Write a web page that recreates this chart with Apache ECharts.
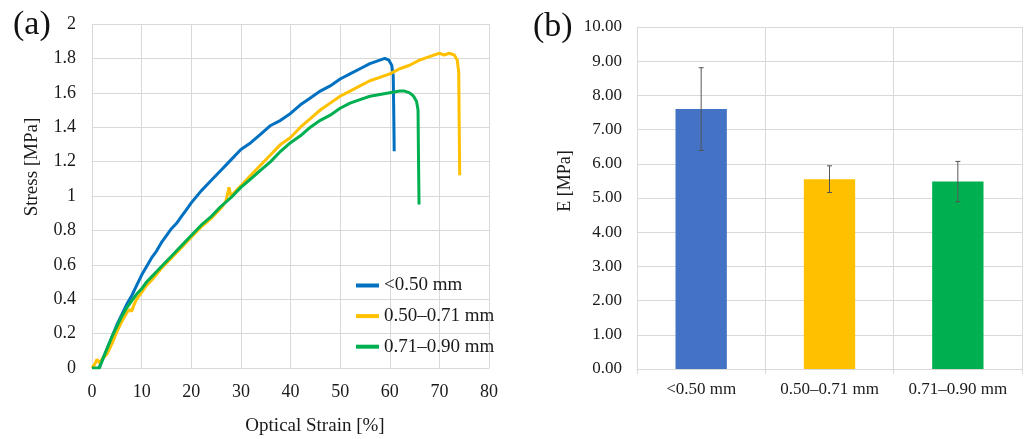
<!DOCTYPE html>
<html>
<head>
<meta charset="utf-8">
<script src="https://cdn.jsdelivr.net/npm/echarts@6/dist/echarts.min.js"></script>
<style>
html,body{margin:0;padding:0;background:#fff;}
#c{width:1027px;height:439px;}
</style>
</head>
<body>
<div id="c"></div>
<script>
// ---------- Panel (a): stress–strain curves ----------
const seriesNames = ['<0.50 mm', '0.50–0.71 mm', '0.71–0.90 mm'];

const blueStrain = [1.4, 2, 3, 4, 5, 6, 7, 8, 9, 10, 11, 12, 13, 14, 15, 16, 17, 18, 19, 20, 22, 24, 26, 28, 30, 32, 34, 36, 38, 40, 42, 44, 46, 48, 50, 52, 54, 56, 57, 58, 59, 59.8, 60.4, 60.7, 60.8, 60.9];
const blueStress = [0, 0.04, 0.11, 0.18, 0.25, 0.31, 0.37, 0.42, 0.48, 0.54, 0.59, 0.64, 0.68, 0.73, 0.77, 0.81, 0.84, 0.88, 0.92, 0.96, 1.03, 1.09, 1.15, 1.21, 1.27, 1.31, 1.36, 1.41, 1.44, 1.48, 1.53, 1.57, 1.61, 1.64, 1.68, 1.71, 1.74, 1.77, 1.78, 1.79, 1.80, 1.79, 1.76, 1.70, 1.50, 1.26];

const yellowStrain = [0, 0.5, 1, 1.5, 2, 3, 4, 5, 6, 7, 7.5, 8, 8.5, 9, 10, 11, 12, 14, 16, 18, 20, 22, 24, 26, 27, 27.6, 28, 30, 32, 34, 36, 38, 40, 42, 44, 46, 48, 50, 52, 54, 56, 58, 60, 62, 64, 66, 68, 70, 71, 72, 73, 73.6, 73.9, 74.0, 74.1];
const yellowStress = [0, 0.02, 0.05, 0.03, 0.05, 0.08, 0.14, 0.21, 0.27, 0.32, 0.34, 0.33, 0.37, 0.40, 0.44, 0.48, 0.51, 0.58, 0.64, 0.70, 0.76, 0.82, 0.87, 0.93, 0.97, 1.05, 1.00, 1.06, 1.12, 1.18, 1.24, 1.30, 1.34, 1.40, 1.45, 1.50, 1.54, 1.58, 1.61, 1.64, 1.67, 1.69, 1.71, 1.74, 1.76, 1.79, 1.81, 1.83, 1.82, 1.83, 1.82, 1.79, 1.72, 1.40, 1.12];

const greenStrain = [0, 1.5, 2, 3, 4, 5, 6, 7, 8, 9, 10, 11, 12, 14, 16, 18, 20, 22, 24, 26, 28, 30, 32, 34, 36, 38, 40, 42, 44, 46, 48, 50, 52, 54, 56, 58, 60, 62, 63, 64, 64.8, 65.4, 65.7, 65.8, 65.9];
const greenStress = [0, 0, 0.04, 0.11, 0.18, 0.24, 0.30, 0.35, 0.39, 0.43, 0.46, 0.50, 0.53, 0.59, 0.65, 0.71, 0.77, 0.83, 0.88, 0.94, 0.99, 1.05, 1.10, 1.15, 1.20, 1.26, 1.31, 1.35, 1.40, 1.44, 1.47, 1.51, 1.54, 1.56, 1.58, 1.59, 1.60, 1.61, 1.61, 1.60, 1.58, 1.55, 1.50, 1.20, 0.95];

// ---------- Panel (b): modulus bars ----------
const barCategories = ['<0.50 mm', '0.50–0.71 mm', '0.71–0.90 mm'];
const modulusMean = [7.60, 5.55, 5.48];
const modulusErr = [1.21, 0.39, 0.59];

const lineColors = ['#0070C0', '#FFC000', '#00B050'];
const barColors = ['#4472C4', '#FFC000', '#00B050'];
const FONT = '"Liberation Serif", "Times New Roman", serif';
const GRID_COLOR = '#d9d9d9';
const TEXT = '#1a1a1a';

function pairs(xs, ys) { return xs.map((x, i) => [x, ys[i]]); }

const chart = echarts.init(document.getElementById('c'), null, {renderer: 'canvas'});

const option = {
  backgroundColor: '#fff',
  animation: false,
  textStyle: {fontFamily: FONT, color: TEXT},
  grid: [
    {left: 92, top: 24, width: 397, height: 344},
    {left: 637, top: 27, width: 385, height: 342}
  ],
  xAxis: [
    {
      gridIndex: 0, type: 'value', min: 0, max: 80, interval: 10,
      axisLine: {show: true, lineStyle: {color: GRID_COLOR}},
      axisTick: {show: false},
      axisLabel: {fontFamily: FONT, fontSize: 18, color: TEXT, margin: 15},
      splitLine: {show: true, lineStyle: {color: GRID_COLOR}}
    },
    {
      gridIndex: 1, type: 'category', data: barCategories, boundaryGap: true,
      axisLine: {show: true, lineStyle: {color: GRID_COLOR}},
      axisTick: {show: true, length: 5, lineStyle: {color: GRID_COLOR}},
      axisLabel: {fontFamily: FONT, fontSize: 17, color: TEXT, margin: 12},
      splitLine: {show: true, lineStyle: {color: GRID_COLOR}}
    }
  ],
  yAxis: [
    {
      gridIndex: 0, type: 'value', min: 0, max: 2, interval: 0.2,
      axisLine: {show: false}, axisTick: {show: false},
      axisLabel: {fontFamily: FONT, fontSize: 18, color: TEXT, margin: 16},
      splitLine: {show: true, lineStyle: {color: GRID_COLOR}}
    },
    {
      gridIndex: 1, type: 'value', min: 0, max: 10, interval: 1,
      axisLine: {show: false}, axisTick: {show: false},
      axisLabel: {fontFamily: FONT, fontSize: 17, color: TEXT, margin: 15,
        formatter: v => v.toFixed(2)},
      splitLine: {show: true, lineStyle: {color: GRID_COLOR}}
    }
  ],
  legend: {
    data: seriesNames,
    orient: 'vertical',
    left: 351, top: 271,
    itemWidth: 23, itemHeight: 4, itemGap: 11.6,
    icon: 'rect',
    textStyle: {fontFamily: FONT, fontSize: 19, color: TEXT, lineHeight: 19}
  },
  series: [
    {name: seriesNames[0], type: 'line', xAxisIndex: 0, yAxisIndex: 0,
     data: pairs(blueStrain, blueStress), showSymbol: false, symbol: 'none',
     lineStyle: {color: lineColors[0], width: 3}, itemStyle: {color: lineColors[0]}},
    {name: seriesNames[1], type: 'line', xAxisIndex: 0, yAxisIndex: 0,
     data: pairs(yellowStrain, yellowStress), showSymbol: false, symbol: 'none',
     lineStyle: {color: lineColors[1], width: 3}, itemStyle: {color: lineColors[1]}},
    {name: seriesNames[2], type: 'line', xAxisIndex: 0, yAxisIndex: 0,
     data: pairs(greenStrain, greenStress), showSymbol: false, symbol: 'none',
     lineStyle: {color: lineColors[2], width: 3}, itemStyle: {color: lineColors[2]}},
    {type: 'bar', xAxisIndex: 1, yAxisIndex: 1, barWidth: '40%',
     data: modulusMean.map((v, i) => ({value: v, itemStyle: {color: barColors[i]}}))},
    {type: 'custom', xAxisIndex: 1, yAxisIndex: 1, z: 10,
     data: modulusMean.map((v, i) => [i, v - modulusErr[i], v + modulusErr[i]]),
     encode: {x: 0, y: [1, 2]},
     renderItem: function (params, api) {
       const lo = api.coord([api.value(0), api.value(1)]);
       const hi = api.coord([api.value(0), api.value(2)]);
       const cap = 2.5;
       const st = {stroke: '#555', lineWidth: 1};
       return {type: 'group', children: [
         {type: 'line', shape: {x1: lo[0], y1: lo[1], x2: hi[0], y2: hi[1]}, style: st},
         {type: 'line', shape: {x1: hi[0] - cap, y1: hi[1], x2: hi[0] + cap, y2: hi[1]}, style: st},
         {type: 'line', shape: {x1: lo[0] - cap, y1: lo[1], x2: lo[0] + cap, y2: lo[1]}, style: st}
       ]};
     }}
  ],
  graphic: [
    {type: 'text', left: 13, top: 8, style: {text: '(a)', font: '34px ' + FONT, fill: '#111'}},
    {type: 'text', left: 533, top: 10, style: {text: '(b)', font: '34px ' + FONT, fill: '#111'}},
    {type: 'text', x: 32, y: 167, rotation: Math.PI / 2,
     style: {text: 'Stress [MPa]', font: '19px ' + FONT, fill: TEXT, textAlign: 'center', textVerticalAlign: 'middle'}},
    {type: 'text', x: 315, y: 426,
     style: {text: 'Optical Strain [%]', font: '19px ' + FONT, fill: TEXT, textAlign: 'center', textVerticalAlign: 'middle'}},
    {type: 'text', x: 565, y: 181, rotation: Math.PI / 2,
     style: {text: 'E [MPa]', font: '18px ' + FONT, fill: TEXT, textAlign: 'center', textVerticalAlign: 'middle'}}
  ]
};
chart.setOption(option);
</script>
</body>
</html>
